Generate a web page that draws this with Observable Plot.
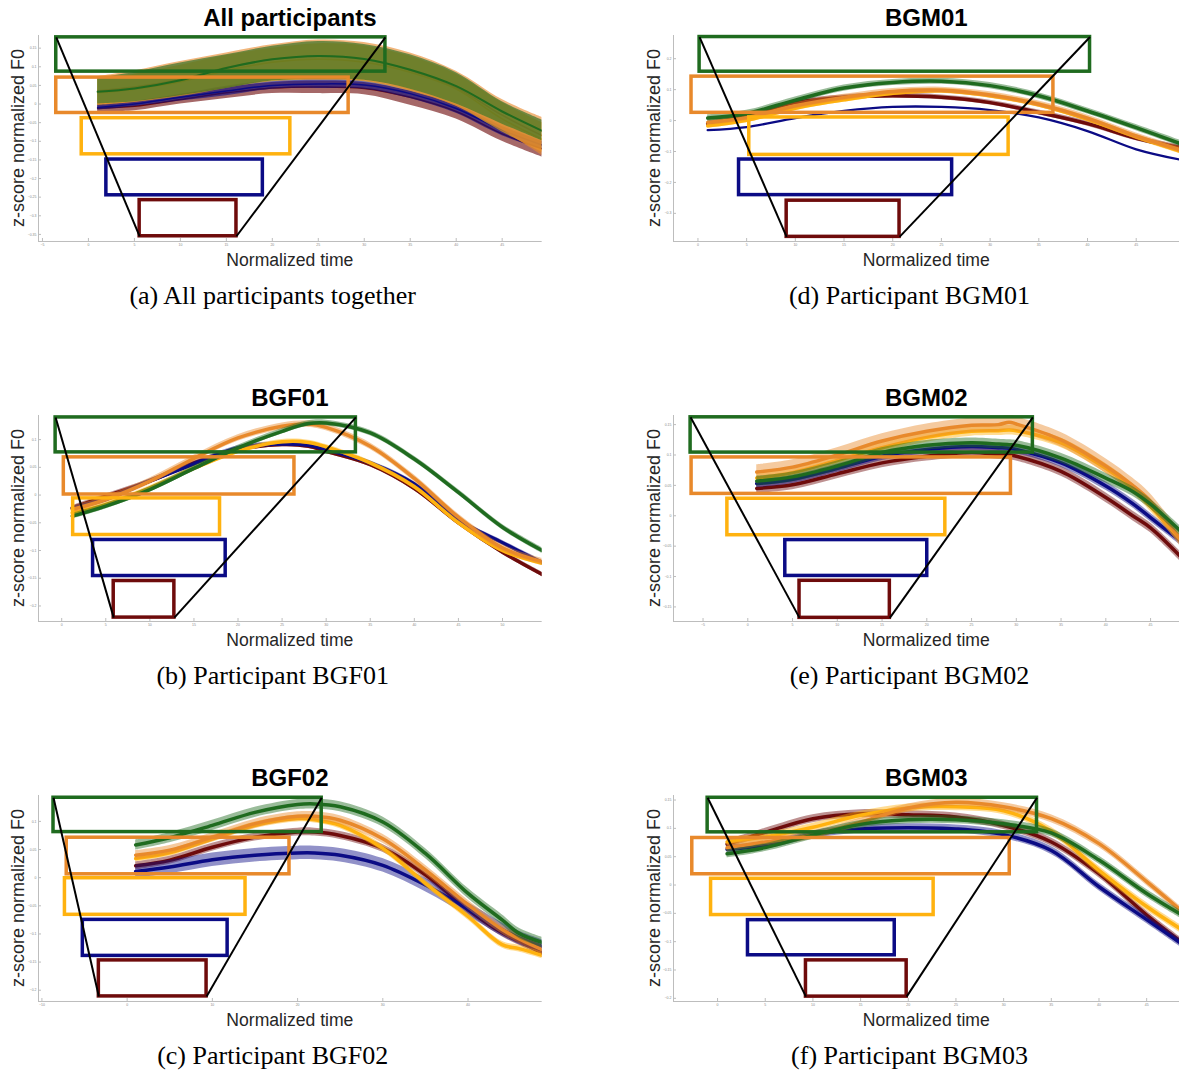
<!DOCTYPE html>
<html><head><meta charset="utf-8">
<script src="https://cdn.jsdelivr.net/npm/d3@7"></script>
<script src="https://cdn.jsdelivr.net/npm/@observablehq/plot@0.6"></script>
<style>
html,body{margin:0;padding:0;background:#fff;overflow:hidden;width:1179px;height:1074px;}
#root{position:relative;width:1179px;height:1074px;overflow:hidden;background:#fff;}
.panel{position:absolute;}
</style></head><body><div id="root"></div>
<script>
// ---------- categories / labels ----------
const seriesNames = ["red", "blue", "yellow", "orange", "green"];
const seriesColors = ["#6e0b0b", "#0b0b85", "#ffb20f", "#e8892b", "#1f6b1f"];
const rectOrder = ["green", "orange", "yellow", "blue", "red"];
const rectColors = ["#1f6b1f", "#e8892b", "#ffb20f", "#0b0b85", "#6e0b0b"];
const titles = ["All participants", "BGF01", "BGF02", "BGM01", "BGM02", "BGM03"];
const captions = ["(a) All participants together", "(b) Participant BGF01", "(c) Participant BGF02",
                  "(d) Participant BGM01", "(e) Participant BGM02", "(f) Participant BGM03"];
const xLabel = "Normalized time";
const yLabel = "z-score normalized F0";

// ---------- (a) All participants ----------
const xA = [1, 5, 10, 15, 20, 25, 30, 35, 40, 45, 49.35];
const aRed      = [-0.011, -0.006, 0.012, 0.030, 0.043, 0.046, 0.042, 0.018, -0.020, -0.080, -0.120];
const aRedLo    = [-0.022, -0.018, 0.000, 0.015, 0.028, 0.028, 0.025, -0.003, -0.040, -0.100, -0.142];
const aRedHi    = [0.000, 0.006, 0.024, 0.045, 0.058, 0.062, 0.058, 0.035, -0.002, -0.060, -0.100];
const aBlue     = [-0.009, 0.000, 0.018, 0.035, 0.050, 0.054, 0.051, 0.028, -0.012, -0.070, -0.110];
const aBlueLo   = [-0.016, -0.007, 0.008, 0.022, 0.040, 0.042, 0.040, 0.015, -0.025, -0.085, -0.122];
const aBlueHi   = [-0.002, 0.007, 0.026, 0.048, 0.062, 0.066, 0.063, 0.040, 0.000, -0.054, -0.099];
const aYellow   = [0.030, 0.040, 0.060, 0.090, 0.112, 0.120, 0.112, 0.085, 0.040, -0.040, -0.095];
const aYellowLo = [-0.004, 0.004, 0.020, 0.042, 0.060, 0.064, 0.060, 0.034, -0.006, -0.075, -0.130];
const aYellowHi = [0.066, 0.080, 0.104, 0.130, 0.150, 0.162, 0.156, 0.128, 0.080, 0.004, -0.050];
const aOrange   = [0.036, 0.046, 0.066, 0.098, 0.120, 0.128, 0.120, 0.090, 0.044, -0.030, -0.085];
const aOrangeLo = [-0.002, 0.005, 0.022, 0.044, 0.062, 0.066, 0.062, 0.036, -0.005, -0.070, -0.138];
const aOrangeHi = [0.074, 0.089, 0.114, 0.137, 0.159, 0.172, 0.165, 0.137, 0.088, 0.012, -0.036];
const aGreen    = [0.033, 0.042, 0.064, 0.097, 0.120, 0.129, 0.121, 0.092, 0.048, -0.020, -0.072];
const aGreenLo  = [0.000, 0.006, 0.022, 0.042, 0.062, 0.066, 0.064, 0.040, 0.000, -0.054, -0.099];
const aGreenHi  = [0.070, 0.085, 0.110, 0.132, 0.155, 0.168, 0.160, 0.132, 0.084, 0.006, -0.043];
const rectA_x1 = [-3.5, -3.5, -0.73, 1.95, 5.57];
const rectA_x2 = [32.3, 28.3, 21.96, 18.97, 16.1];
const rectA_top = [0.179, 0.071, -0.038, -0.149, -0.258];
const rectA_bottom = [0.087, -0.024, -0.135, -0.245, -0.355];
const xTicksA = [-5, 0, 5, 10, 15, 20, 25, 30, 35, 40, 45];
const yTicksA = [-0.35, -0.3, -0.25, -0.2, -0.15, -0.1, -0.05, 0, 0.05, 0.1, 0.15];

// ---------- (b) BGF01 ----------
const xB = [1.2, 5, 10, 15, 20, 25, 28, 30, 35, 40, 45, 50, 54.5];
const bRed    = [-0.023, -0.002, 0.025, 0.058, 0.082, 0.091, 0.088, 0.079, 0.055, 0.012, -0.050, -0.103, -0.143];
const bBlue   = [-0.024, -0.008, 0.025, 0.056, 0.085, 0.092, 0.090, 0.082, 0.058, 0.020, -0.045, -0.086, -0.122];
const bYellow = [-0.032, -0.017, 0.013, 0.048, 0.079, 0.096, 0.095, 0.087, 0.058, 0.015, -0.050, -0.100, -0.123];
const bOrange = [-0.026, -0.008, 0.025, 0.066, 0.103, 0.124, 0.128, 0.122, 0.088, 0.030, -0.040, -0.095, -0.120];
const bGreen  = [-0.038, -0.020, 0.010, 0.048, 0.085, 0.115, 0.129, 0.130, 0.112, 0.065, 0.005, -0.058, -0.100];
const bandB = [0.004, 0.004, 0.004, 0.006, 0.005];
const rectB_x1 = [-0.69, 0.24, 1.3, 3.56, 5.9];
const rectB_x2 = [33.37, 26.4, 17.96, 18.6, 12.78];
const rectB_top = [0.140, 0.068, -0.006, -0.081, -0.155];
const rectB_bottom = [0.077, 0.001, -0.072, -0.146, -0.221];
const xTicksB = [0, 5, 10, 15, 20, 25, 30, 35, 40, 45, 50];
const yTicksB = [-0.2, -0.15, -0.1, -0.05, 0, 0.05, 0.1];

// ---------- (c) BGF02 ----------
const xC = [1, 5, 10, 15, 20, 22, 25, 30, 35, 40, 44, 46, 48.7];
const cRed    = [0.021, 0.031, 0.054, 0.072, 0.081, 0.081, 0.075, 0.052, 0.005, -0.057, -0.098, -0.113, -0.134];
const cBlue   = [0.011, 0.019, 0.032, 0.040, 0.044, 0.044, 0.040, 0.022, -0.013, -0.056, -0.092, -0.107, -0.122];
const cYellow = [0.034, 0.044, 0.069, 0.093, 0.105, 0.103, 0.093, 0.052, -0.010, -0.069, -0.119, -0.126, -0.138];
const cOrange = [0.040, 0.049, 0.072, 0.096, 0.109, 0.109, 0.102, 0.069, 0.014, -0.048, -0.092, -0.109, -0.128];
const cGreen  = [0.058, 0.071, 0.093, 0.116, 0.130, 0.131, 0.126, 0.099, 0.043, -0.028, -0.075, -0.099, -0.115];
const bandC = [0.007, 0.012, 0.006, 0.008, 0.009];
const rectC_x1 = [-8.64, -7.09, -7.3, -5.2, -3.32];
const rectC_x2 = [22.83, 19.05, 13.89, 11.79, 9.32];
const rectC_top = [0.142, 0.071, -0.001, -0.075, -0.147];
const rectC_bottom = [0.081, 0.006, -0.066, -0.139, -0.211];
const xTicksC = [-10, 0, 10, 20, 30, 40];
const yTicksC = [-0.2, -0.15, -0.1, -0.05, 0, 0.05, 0.1];

// ---------- (d) BGM01 ----------
const xD = [1, 5, 10, 15, 20, 25, 30, 35, 40, 45, 49.6];
const dRed    = [-0.010, 0.015, 0.058, 0.075, 0.080, 0.075, 0.058, 0.026, -0.010, -0.057, -0.088];
const dBlue   = [-0.031, -0.021, 0.008, 0.031, 0.044, 0.044, 0.034, 0.010, -0.034, -0.093, -0.127];
const dYellow = [-0.017, 0.001, 0.040, 0.067, 0.088, 0.096, 0.080, 0.051, 0.004, -0.053, -0.100];
const dOrange = [-0.006, 0.010, 0.048, 0.075, 0.094, 0.098, 0.083, 0.053, 0.008, -0.050, -0.095];
const dGreen  = [0.008, 0.023, 0.066, 0.105, 0.123, 0.127, 0.113, 0.080, 0.031, -0.023, -0.075];
const bandD = [0.008, 0, 0.008, 0.010, 0.010];
const rectD_x1 = [0.17, -0.66, 5.27, 4.22, 9.11];
const rectD_x2 = [40.26, 36.5, 31.9, 26.1, 20.7];
const rectD_top = [0.270, 0.142, 0.010, -0.126, -0.259];
const rectD_bottom = [0.158, 0.025, -0.111, -0.241, -0.376];
const xTicksD = [0, 5, 10, 15, 20, 25, 30, 35, 40, 45];
const yTicksD = [-0.3, -0.2, -0.1, 0, 0.1, 0.2];

// ---------- (e) BGM02 ----------
const xE = [1, 5, 10, 15, 20, 25, 28, 29.2, 30, 35, 40, 43, 45, 48.4];
const eRed    = [0.045, 0.051, 0.069, 0.087, 0.098, 0.104, 0.101, 0.100, 0.098, 0.073, 0.030, 0.000, -0.020, -0.068];
const eBlue   = [0.053, 0.060, 0.078, 0.098, 0.109, 0.114, 0.112, 0.111, 0.109, 0.087, 0.049, 0.020, -0.003, -0.042];
const eYellow = [0.062, 0.071, 0.091, 0.112, 0.129, 0.139, 0.140, 0.141, 0.140, 0.120, 0.078, 0.045, 0.015, -0.040];
const eOrange = [0.072, 0.080, 0.100, 0.123, 0.139, 0.149, 0.150, 0.154, 0.151, 0.125, 0.082, 0.050, 0.024, -0.040];
const eGreen  = [0.057, 0.064, 0.082, 0.104, 0.116, 0.120, 0.118, 0.117, 0.116, 0.095, 0.062, 0.040, 0.019, -0.026];
const bandE = [0.008, 0.007, 0.008, 0.012, 0.008];
const rectE_x1 = [-6.39, -6.28, -2.28, 4.19, 5.78];
const rectE_x2 = [31.85, 29.4, 22.07, 20.05, 15.87];
const rectE_top = [0.162, 0.096, 0.028, -0.040, -0.107];
const rectE_bottom = [0.104, 0.036, -0.032, -0.099, -0.168];
const xTicksE = [-5, 0, 5, 10, 15, 20, 25, 30, 35, 40, 45];
const yTicksE = [-0.15, -0.1, -0.05, 0, 0.05, 0.1, 0.15];

// ---------- (f) BGM03 ----------
const xF = [1, 5, 10, 15, 20, 25, 30, 35, 40, 45, 48.6];
const fRed    = [0.072, 0.093, 0.117, 0.126, 0.124, 0.120, 0.105, 0.076, 0.020, -0.053, -0.100];
const fBlue   = [0.063, 0.070, 0.089, 0.099, 0.101, 0.099, 0.089, 0.061, -0.003, -0.061, -0.103];
const fYellow = [0.076, 0.085, 0.102, 0.123, 0.136, 0.138, 0.131, 0.095, 0.026, -0.038, -0.078];
const fOrange = [0.066, 0.076, 0.088, 0.111, 0.136, 0.146, 0.138, 0.117, 0.073, 0.006, -0.045];
const fGreen  = [0.055, 0.066, 0.088, 0.107, 0.115, 0.115, 0.108, 0.092, 0.044, -0.015, -0.052];
const bandF = [0.007, 0.007, 0.007, 0.007, 0.007];
const rectF_x1 = [-1.04, -2.65, -0.68, 3.19, 9.27];
const rectF_x2 = [33.5, 30.64, 22.66, 18.58, 19.83];
const rectF_top = [0.154, 0.083, 0.011, -0.062, -0.133];
const rectF_bottom = [0.093, 0.019, -0.053, -0.124, -0.197];
const xTicksF = [0, 5, 10, 15, 20, 25, 30, 35, 40, 45];
const yTicksF = [-0.2, -0.15, -0.1, -0.05, 0, 0.05, 0.1, 0.15];

// ---------- layout / style (not data) ----------
const layout = {
  frameLeft: [38, 672.5], frameRight: [541.7, 1180],
  rowOffset: [0, 380, 760], frameTop: 35, frameHeight: 206,
  captionX: [272.7, 909.5], yLabelGap: [14.5, 12.5]
};
const axisColor = "#bdbdbd";
const tickTextColor = "#8a8a8a";
const fmt = d3.format("~g");
const sansFont = "'Liberation Sans', Arial, sans-serif";
const serifFont = "'Liberation Serif', 'Times New Roman', serif";
const curveType = "catmull-rom";

function withBand(mean, b) {
  return {mean, lo: mean.map(v => v - b), hi: mean.map(v => v + b), band: b > 0};
}
function bandSeries(means, bands) { return means.map((m, i) => withBand(m, bands[i])); }
function rectSet(x1, x2, top, bottom) { return {x1, x2, top, bottom}; }

const panels = [
  {col: 0, row: 0, xs: xA, xDomain: [-5.43, 49.35], yDomain: [-0.369, 0.184], xTicks: xTicksA, yTicks: yTicksA,
   series: [
     {mean: aRed, lo: aRedLo, hi: aRedHi, band: true},
     {mean: aBlue, lo: aBlueLo, hi: aBlueHi, band: true},
     {mean: aYellow, lo: aYellowLo, hi: aYellowHi, band: true},
     {mean: aOrange, lo: aOrangeLo, hi: aOrangeHi, band: true},
     {mean: aGreen, lo: aGreenLo, hi: aGreenHi, band: true}],
   rect: rectSet(rectA_x1, rectA_x2, rectA_top, rectA_bottom), bandOpacity: 0.62, lineWidth: [1.5, 1.5, 1.5, 1.5, 2]},
  {col: 0, row: 1, xs: xB, xDomain: [-2.63, 54.5], yDomain: [-0.228, 0.1435], xTicks: xTicksB, yTicks: yTicksB,
   series: bandSeries([bRed, bBlue, bYellow, bOrange, bGreen], bandB),
   rect: rectSet(rectB_x1, rectB_x2, rectB_top, rectB_bottom), bandOpacity: 0.45, lineWidth: [3.5, 3.5, 3.5, 3.5, 3.5]},
  {col: 0, row: 2, xs: xC, xDomain: [-10.4, 48.7], yDomain: [-0.22, 0.146], xTicks: xTicksC, yTicks: yTicksC,
   series: bandSeries([cRed, cBlue, cYellow, cOrange, cGreen], bandC),
   rect: rectSet(rectC_x1, rectC_x2, rectC_top, rectC_bottom), bandOpacity: 0.45, lineWidth: [3.5, 3.5, 3.5, 3.5, 3.5]},
  {col: 1, row: 0, xs: xD, xDomain: [-2.51, 49.6], yDomain: [-0.391, 0.275], xTicks: xTicksD, yTicks: yTicksD,
   series: bandSeries([dRed, dBlue, dYellow, dOrange, dGreen], bandD),
   rect: rectSet(rectD_x1, rectD_x2, rectD_top, rectD_bottom), bandOpacity: 0.45, lineWidth: [3.5, 2.3, 3.5, 3.5, 3.5]},
  {col: 1, row: 1, xs: xE, xDomain: [-8.3, 48.4], yDomain: [-0.174, 0.165], xTicks: xTicksE, yTicks: yTicksE,
   series: bandSeries([eRed, eBlue, eYellow, eOrange, eGreen], bandE),
   rect: rectSet(rectE_x1, rectE_x2, rectE_top, rectE_bottom), bandOpacity: 0.45, lineWidth: [3.5, 3.5, 3.5, 3.5, 3.5]},
  {col: 1, row: 2, xs: xF, xDomain: [-4.62, 48.6], yDomain: [-0.2056, 0.158], xTicks: xTicksF, yTicks: yTicksF,
   series: bandSeries([fRed, fBlue, fYellow, fOrange, fGreen], bandF),
   rect: rectSet(rectF_x1, rectF_x2, rectF_top, rectF_bottom), bandOpacity: 0.45, lineWidth: [3.5, 3.5, 3.5, 3.5, 3.5]}
];

const root = document.getElementById("root");
const m = {l: 16, r: 2, t: 3, b: 10};

panels.forEach(p => {
  const fl = layout.frameLeft[p.col], fr = layout.frameRight[p.col];
  const fw = fr - fl, fh = layout.frameHeight;
  const top = layout.rowOffset[p.row] + layout.frameTop;
  const marks = [];
  marks.push(Plot.ruleX([p.xDomain[0]], {stroke: axisColor, strokeWidth: 1}));
  marks.push(Plot.ruleY([p.yDomain[0]], {stroke: axisColor, strokeWidth: 1}));
  marks.push(Plot.axisX(p.xTicks, {anchor: "bottom", tickSize: -3, tickPadding: 5, fontSize: 3.5,
    color: tickTextColor, stroke: axisColor, tickFormat: fmt, label: null}));
  marks.push(Plot.axisY(p.yTicks, {anchor: "left", tickSize: -3, tickPadding: 5, fontSize: 3.5,
    color: tickTextColor, stroke: axisColor, tickFormat: fmt, label: null}));
  p.series.forEach((s, i) => {
    const rows = p.xs.map((x, j) => ({x, y: s.mean[j], lo: s.lo[j], hi: s.hi[j]}));
    if (s.band) marks.push(Plot.areaY(rows, {x: "x", y1: "lo", y2: "hi", fill: seriesColors[i],
      fillOpacity: p.bandOpacity, curve: curveType, clip: true}));
    marks.push(Plot.lineY(rows, {x: "x", y: "y", stroke: seriesColors[i], strokeWidth: p.lineWidth[i],
      curve: curveType, strokeLinejoin: "round", clip: true}));
  });
  const rects = p.rect.x1.map((_, i) => ({x1: p.rect.x1[i], x2: p.rect.x2[i],
    y1: p.rect.top[i], y2: p.rect.bottom[i], c: rectColors[i]}));
  marks.push(Plot.rect(rects, {x1: "x1", x2: "x2", y1: "y1", y2: "y2", stroke: "c", fill: "none", strokeWidth: 3.5}));
  const g = rects[0], r = rects[4];
  const funnel = [{x1: g.x1, y1: g.y1, x2: r.x1, y2: r.y2}, {x1: g.x2, y1: g.y1, x2: r.x2, y2: r.y2}];
  marks.push(Plot.link(funnel, {x1: "x1", y1: "y1", x2: "x2", y2: "y2", stroke: "#000", strokeWidth: 2}));

  const chart = Plot.plot({
    width: fw + m.l + m.r, height: fh + m.t + m.b,
    marginLeft: m.l, marginRight: m.r, marginTop: m.t, marginBottom: m.b,
    x: {domain: p.xDomain}, y: {domain: p.yDomain},
    color: {type: "identity"},
    style: {background: "transparent", overflow: "visible", fontFamily: sansFont},
    marks
  });
  chart.classList.add("panel");
  chart.style.left = (fl - m.l) + "px";
  chart.style.top = (top - m.t) + "px";
  root.appendChild(chart);
});

// text overlay: titles, axis labels, captions
const ov = d3.select(root).append("svg").attr("width", 1179).attr("height", 1074)
  .style("position", "absolute").style("left", "0px").style("top", "0px").style("pointer-events", "none");
panels.forEach(p => {
  const fl = layout.frameLeft[p.col], fr = layout.frameRight[p.col];
  const off = layout.rowOffset[p.row];
  const cx = (fl + fr) / 2;
  const cy = off + layout.frameTop + layout.frameHeight / 2;
  const idx = p.col * 3 + p.row;
  ov.append("text").attr("x", cx).attr("y", off + 26).attr("text-anchor", "middle")
    .style("font-family", sansFont).attr("font-weight", "bold")
    .attr("font-size", 24).attr("fill", "#000").text(titles[idx]);
  ov.append("text").attr("transform", `translate(${fl - layout.yLabelGap[p.col]},${cy}) rotate(-90)`)
    .attr("text-anchor", "middle").style("font-family", sansFont)
    .attr("font-size", 18).attr("fill", "#262626").text(yLabel);
  ov.append("text").attr("x", cx).attr("y", off + 266).attr("text-anchor", "middle")
    .style("font-family", sansFont).attr("font-size", 17.6)
    .attr("fill", "#262626").text(xLabel);
  ov.append("text").attr("x", layout.captionX[p.col]).attr("y", off + 304).attr("text-anchor", "middle")
    .style("font-family", serifFont).attr("font-size", 26)
    .attr("fill", "#000").text(captions[idx]);
});
</script>
</body></html>
